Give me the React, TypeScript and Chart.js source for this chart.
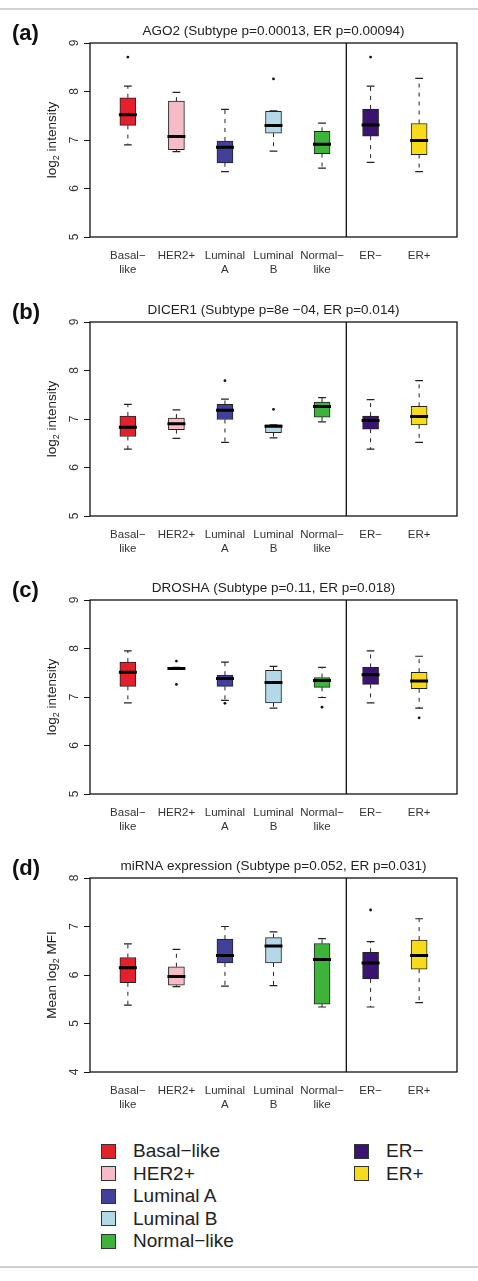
import React, { useEffect, useRef } from "react";
import { Chart, registerables } from "chart.js";

Chart.register(...registerables);

const FONT = "'Liberation Sans', Arial, Helvetica, sans-serif";

const CATEGORIES: string[][] = [
  ["Basal−", "like"],
  ["HER2+"],
  ["Luminal", "A"],
  ["Luminal", "B"],
  ["Normal−", "like"],
  ["ER−"],
  ["ER+"],
];
const BOX_COLORS = ["#E3202B", "#F7BBC7", "#42419A", "#B3D9E9", "#3DB33A", "#3B1370", "#F7DB1A"];
const LEGEND_LEFT = ["Basal−like", "HER2+", "Luminal A", "Luminal B", "Normal−like"];
const LEGEND_RIGHT = ["ER−", "ER+"];
const DIVIDER_AT = 5.5;

// (a) AGO2
const AGO2_LOWER = [6.9, 6.76, 6.35, 6.77, 6.42, 6.54, 6.35];
const AGO2_Q1 = [7.3, 6.8, 6.53, 7.14, 6.72, 7.08, 6.7];
const AGO2_MEDIAN = [7.52, 7.07, 6.85, 7.3, 6.91, 7.31, 6.99];
const AGO2_Q3 = [7.87, 7.8, 6.98, 7.59, 7.18, 7.64, 7.34];
const AGO2_UPPER = [8.11, 7.98, 7.63, 7.6, 7.35, 8.11, 8.27];
const AGO2_OUTLIERS = [[1, 8.71], [4, 8.26], [6, 8.71]];

// (b) DICER1
const DICER1_LOWER = [6.38, 6.6, 6.52, 6.61, 6.94, 6.38, 6.52];
const DICER1_Q1 = [6.64, 6.78, 6.99, 6.72, 7.04, 6.79, 6.88];
const DICER1_MEDIAN = [6.83, 6.9, 7.18, 6.85, 7.26, 6.97, 7.05];
const DICER1_Q3 = [7.06, 7.02, 7.3, 6.88, 7.35, 7.06, 7.26];
const DICER1_UPPER = [7.3, 7.19, 7.41, 6.88, 7.44, 7.4, 7.79];
const DICER1_OUTLIERS = [[3, 7.79], [4, 7.2]];

// (c) DROSHA
const DROSHA_LOWER = [6.88, 7.57, 6.93, 6.77, 6.99, 6.88, 6.77];
const DROSHA_Q1 = [7.22, 7.57, 7.22, 6.88, 7.2, 7.26, 7.17];
const DROSHA_MEDIAN = [7.51, 7.59, 7.38, 7.3, 7.34, 7.46, 7.33];
const DROSHA_Q3 = [7.72, 7.61, 7.45, 7.55, 7.4, 7.61, 7.51];
const DROSHA_UPPER = [7.95, 7.61, 7.72, 7.63, 7.61, 7.95, 7.84];
const DROSHA_OUTLIERS = [[2, 7.74], [2, 7.26], [3, 6.87], [5, 6.79], [7, 6.57]];

// (d) miRNA expression
const MIRNA_LOWER = [5.38, 5.76, 5.77, 5.78, 5.34, 5.34, 5.43];
const MIRNA_Q1 = [5.84, 5.79, 6.25, 6.25, 5.4, 5.92, 6.12];
const MIRNA_MEDIAN = [6.15, 5.97, 6.4, 6.6, 6.32, 6.25, 6.4];
const MIRNA_Q3 = [6.36, 6.17, 6.74, 6.77, 6.65, 6.47, 6.72];
const MIRNA_UPPER = [6.64, 6.53, 7.0, 6.89, 6.75, 6.69, 7.16];
const MIRNA_OUTLIERS = [[6, 7.34]];

type PanelProps = {
  letter: string;
  title: string;
  yTitle: [string, string, string];
  yMin: number;
  yMax: number;
  lower: number[];
  q1: number[];
  median: number[];
  q3: number[];
  upper: number[];
  outliers: number[][];
  top: number;
};

const CANVAS_W = 478;
const CANVAS_H = 280;

function BoxPanel(p: PanelProps) {
  const ref = useRef<HTMLCanvasElement | null>(null);
  useEffect(() => {
    if (!ref.current) return;
    const xs = CATEGORIES.map((_, i) => i + 1);
    const CAP = 0.08;
    const MED = 0.185;
    const whisk: any[] = [];
    const caps: any[] = [];
    const meds: any[] = [];
    xs.forEach((x, i) => {
      whisk.push({ x, y: p.q3[i] }, { x, y: p.upper[i] }, { x, y: null });
      whisk.push({ x, y: p.q1[i] }, { x, y: p.lower[i] }, { x, y: null });
      caps.push({ x: x - CAP, y: p.upper[i] }, { x: x + CAP, y: p.upper[i] }, { x, y: null });
      caps.push({ x: x - CAP, y: p.lower[i] }, { x: x + CAP, y: p.lower[i] }, { x, y: null });
      meds.push({ x: x - MED, y: p.median[i] }, { x: x + MED, y: p.median[i] }, { x, y: null });
    });
    const deco = {
      id: "deco",
      afterDraw(chart: any) {
        const { ctx, chartArea: a, scales } = chart;
        ctx.save();
        ctx.strokeStyle = "#111";
        ctx.lineWidth = 1.3;
        ctx.strokeRect(a.left, a.top, a.right - a.left, a.bottom - a.top);
        ctx.fillStyle = "#222";
        ctx.font = `13.5px ${FONT}`;
        ctx.textAlign = "center";
        ctx.textBaseline = "middle";
        ctx.fillText(p.title, (a.left + a.right) / 2, a.top - 12);
        ctx.font = `bold 22px ${FONT}`;
        ctx.textAlign = "left";
        ctx.fillStyle = "#111";
        ctx.fillText(p.letter, 12, a.top - 9);
        const ys = scales.y;
        ctx.font = `12px ${FONT}`;
        ctx.fillStyle = "#333";
        ys.ticks.forEach((t: any) => {
          const py = ys.getPixelForValue(t.value);
          ctx.save();
          ctx.translate(a.left - 15, py);
          ctx.rotate(-Math.PI / 2);
          ctx.textAlign = "center";
          ctx.textBaseline = "middle";
          ctx.fillText(String(t.value), 0, 0);
          ctx.restore();
        });
        // y title with subscript
        const [pre, sub, post] = p.yTitle;
        const mainFont = `13.5px ${FONT}`;
        const subFont = `9px ${FONT}`;
        ctx.font = mainFont;
        const w1 = ctx.measureText(pre).width;
        const w3 = ctx.measureText(post).width;
        ctx.font = subFont;
        const w2 = ctx.measureText(sub).width;
        const total = w1 + w2 + w3;
        ctx.save();
        ctx.translate(52, (a.top + a.bottom) / 2);
        ctx.rotate(-Math.PI / 2);
        ctx.textAlign = "left";
        ctx.textBaseline = "middle";
        ctx.fillStyle = "#222";
        let cx = -total / 2;
        ctx.font = mainFont;
        ctx.fillText(pre, cx, 0);
        cx += w1;
        ctx.font = subFont;
        ctx.fillText(sub, cx, 5);
        cx += w2;
        ctx.font = mainFont;
        ctx.fillText(post, cx, 0);
        ctx.restore();
        ctx.restore();
      },
    };
    const chart = new Chart(ref.current, {
      type: "bar",
      data: {
        datasets: [
          {
            type: "bar",
            data: xs.map((x, i) => ({ x, y: [p.q1[i], p.q3[i]] })) as any,
            backgroundColor: BOX_COLORS,
            borderColor: "#222",
            borderWidth: 1,
            borderSkipped: false,
            barThickness: 16,
            grouped: false,
            order: 5,
          } as any,
          {
            type: "line",
            data: whisk,
            borderColor: "#222",
            borderWidth: 1,
            borderDash: [4, 5],
            pointRadius: 0,
            spanGaps: false,
            order: 6,
          } as any,
          {
            type: "line",
            data: caps,
            borderColor: "#222",
            borderWidth: 1.2,
            pointRadius: 0,
            spanGaps: false,
            order: 4,
          } as any,
          {
            type: "line",
            data: meds,
            borderColor: "#000",
            borderWidth: 3,
            pointRadius: 0,
            spanGaps: false,
            borderCapStyle: "butt",
            order: 1,
          } as any,
          {
            type: "scatter",
            data: p.outliers.map(([c, v]) => ({ x: c, y: v })),
            backgroundColor: "#111",
            borderColor: "#111",
            pointRadius: 1.4,
            borderWidth: 0,
            order: 2,
          } as any,
          {
            type: "line",
            data: [
              { x: DIVIDER_AT, y: p.yMin },
              { x: DIVIDER_AT, y: p.yMax },
            ],
            borderColor: "#111",
            borderWidth: 1.3,
            pointRadius: 0,
            order: 3,
          } as any,
        ],
      },
      options: {
        responsive: false,
        animation: false,
        events: [],
        layout: { padding: { top: 43, right: 21, left: 0, bottom: 0 } },
        plugins: { legend: { display: false }, tooltip: { enabled: false }, title: { display: false } },
        scales: {
          x: {
            type: "linear",
            min: 0.22,
            max: 7.78,
            offset: false,
            grid: { display: false, drawTicks: false, offset: false },
            border: { display: false },
            afterBuildTicks: (s: any) => {
              s.ticks = xs.map((v) => ({ value: v }));
            },
            afterFit: (s: any) => {
              s.height = 43;
            },
            ticks: {
              autoSkip: false,
              maxRotation: 0,
              minRotation: 0,
              padding: 12,
              color: "#333",
              font: { family: FONT, size: 11.5 },
              callback: (v: any) => CATEGORIES[Math.round(Number(v)) - 1] ?? "",
            },
          },
          y: {
            type: "linear",
            min: p.yMin,
            max: p.yMax,
            grid: { drawOnChartArea: false, drawTicks: true, tickLength: 6, color: "#111", lineWidth: 1 },
            border: { display: false },
            afterFit: (s: any) => {
              s.width = 90;
            },
            ticks: { stepSize: 1, display: false },
          },
        },
      } as any,
      plugins: [deco],
    });
    return () => chart.destroy();
  }, []);
  return (
    <canvas
      ref={ref}
      width={CANVAS_W}
      height={CANVAS_H}
      style={{ position: "absolute", left: 0, top: p.top, width: CANVAS_W, height: CANVAS_H }}
    />
  );
}

function Legend() {
  const rowTop = 1140;
  const rowH = 22.5;
  const item = (label: string, color: string, left: number, idx: number) => (
    <div
      key={label}
      style={{
        position: "absolute",
        left,
        top: rowTop + idx * rowH,
        height: 22,
        display: "flex",
        alignItems: "center",
        fontFamily: FONT,
        fontSize: 19,
        color: "#222",
        whiteSpace: "nowrap",
      }}
    >
      <span
        style={{
          display: "inline-block",
          width: 13,
          height: 13,
          background: color,
          border: "1px solid #333",
          marginRight: 17,
        }}
      />
      {label}
    </div>
  );
  return (
    <>
      {LEGEND_LEFT.map((l, i) => item(l, BOX_COLORS[i], 101, i))}
      {LEGEND_RIGHT.map((l, i) => item(l, BOX_COLORS[5 + i], 354, i))}
    </>
  );
}

export default function App() {
  return (
    <div style={{ position: "absolute", left: 0, top: 0, width: 478, height: 1281, background: "#fff" }}>
      <div style={{ position: "absolute", left: 0, top: 8, width: 478, height: 2, background: "#d0d0d0" }} />
      <BoxPanel
        letter="(a)"
        title="AGO2 (Subtype p=0.00013, ER p=0.00094)"
        yTitle={["log", "2", " intensity"]}
        yMin={5}
        yMax={9}
        lower={AGO2_LOWER}
        q1={AGO2_Q1}
        median={AGO2_MEDIAN}
        q3={AGO2_Q3}
        upper={AGO2_UPPER}
        outliers={AGO2_OUTLIERS}
        top={0}
      />
      <BoxPanel
        letter="(b)"
        title="DICER1 (Subtype p=8e −04, ER p=0.014)"
        yTitle={["log", "2", " intensity"]}
        yMin={5}
        yMax={9}
        lower={DICER1_LOWER}
        q1={DICER1_Q1}
        median={DICER1_MEDIAN}
        q3={DICER1_Q3}
        upper={DICER1_UPPER}
        outliers={DICER1_OUTLIERS}
        top={279}
      />
      <BoxPanel
        letter="(c)"
        title="DROSHA (Subtype p=0.11, ER p=0.018)"
        yTitle={["log", "2", " intensity"]}
        yMin={5}
        yMax={9}
        lower={DROSHA_LOWER}
        q1={DROSHA_Q1}
        median={DROSHA_MEDIAN}
        q3={DROSHA_Q3}
        upper={DROSHA_UPPER}
        outliers={DROSHA_OUTLIERS}
        top={557}
      />
      <BoxPanel
        letter="(d)"
        title="miRNA expression (Subtype p=0.052, ER p=0.031)"
        yTitle={["Mean log", "2", " MFI"]}
        yMin={4}
        yMax={8}
        lower={MIRNA_LOWER}
        q1={MIRNA_Q1}
        median={MIRNA_MEDIAN}
        q3={MIRNA_Q3}
        upper={MIRNA_UPPER}
        outliers={MIRNA_OUTLIERS}
        top={835}
      />
      <Legend />
      <div style={{ position: "absolute", left: 0, top: 1266, width: 478, height: 2, background: "#d0d0d0" }} />
    </div>
  );
}
